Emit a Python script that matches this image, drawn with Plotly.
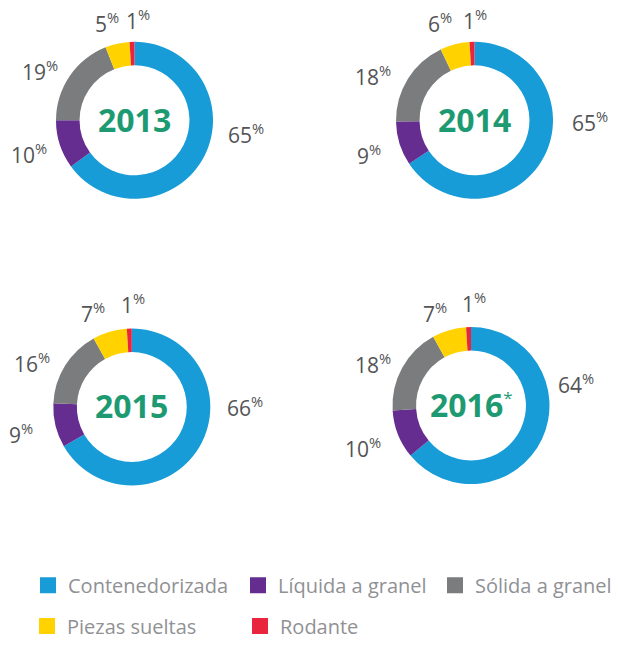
import plotly.graph_objects as go

# page body adds an 8px margin; the figure is sized/offset to compensate
OFF = 8
W, H = 622 - OFF, 646 - OFF

categories = ["Contenedorizada", "Líquida a granel", "Sólida a granel", "Piezas sueltas", "Rodante"]
years = ["2013", "2014", "2015", "2016"]
year_marks = ["", "", "", "*"]
v2013 = [65, 10, 19, 5, 1]
v2014 = [65, 9, 18, 6, 1]
v2015 = [66, 9, 16, 7, 1]
v2016 = [64, 10, 18, 7, 1]
values = [v2013, v2014, v2015, v2016]

colors = ["#179cd8", "#662d91", "#7a7c7d", "#ffd200", "#e8253d"]

# layout: pie centres (screen px) and radius
centers = [(134.5, 121), (474.5, 121), (131.8, 409.5), (471, 408)]
R = 79
# label offsets relative to each pie centre (px, screen coords)
label_offsets = [
    [(111, 14), (-106, 34.5), (-95, -49), (-27.5, -97), (3.5, -100)],
    [(115.3, 2), (-105.7, 35), (-101.8, -44), (-34.5, -97), (0, -100)],
    [(113.5, 0.2), (-110.5, 27.2), (-99.8, -43.5), (-38.8, -94.5), (1.2, -103.5)],
    [(105, -21.3), (-108.3, 43), (-98.3, -41.3), (-36.2, -93), (3.3, -102.2)],
]
# legend item placement (screen px): square centre x, row centre y
legend_pos = [(48, 589), (258, 589), (455, 589), (47, 630), (260, 630)]


def px(x):
    return (x - OFF) / W


def py(y):
    return (H - (y - OFF)) / H


fig = go.Figure()
annotations = []
for i, (yr, vals) in enumerate(zip(years, values)):
    cx, cy = centers[i]
    fig.add_trace(go.Pie(
        labels=categories, values=vals, hole=0.70, sort=False,
        direction="clockwise", rotation=0,
        marker=dict(colors=colors, line=dict(color="white", width=0)),
        textinfo="none", hoverinfo="label+value",
        domain=dict(x=[px(cx - R), px(cx + R)], y=[py(cy + R), py(cy - R)]),
        showlegend=False,
    ))
    mark = ""
    if year_marks[i]:
        mark = f"<sup><span style='font-size:17px'>{year_marks[i]}</span></sup>"
    annotations.append(dict(
        x=px(cx), y=py(cy - 1), xref="paper", yref="paper", showarrow=False,
        text=f"<b>{yr}</b>{mark}",
        font=dict(size=32, color="#1e9a73", family="Open Sans"),
        xanchor="center", yanchor="middle",
    ))
    for v, (dx, dy) in zip(vals, label_offsets[i]):
        annotations.append(dict(
            x=px(cx + dx), y=py(cy + dy - 1), xref="paper", yref="paper",
            showarrow=False, text=f"{v}<sup>%</sup>",
            font=dict(size=21, color="#535456", family="Open Sans"),
            xanchor="center", yanchor="middle",
        ))

# legend entries (one legend per entry for exact placement)
legend_layout = {}
for k, (cat, col) in enumerate(zip(categories, colors)):
    name = "legend" if k == 0 else f"legend{k + 1}"
    fig.add_trace(go.Scatter(
        x=[None], y=[None], mode="markers", name=cat,
        marker=dict(symbol="square", size=18, color=col),
        legend=name, showlegend=True, hoverinfo="skip",
    ))
    sx, sy = legend_pos[k]
    legend_layout[name] = dict(
        x=px(sx - 20), y=py(sy), xanchor="left", yanchor="middle",
        orientation="h", bgcolor="rgba(0,0,0,0)", borderwidth=0,
        font=dict(size=20, color="#909194", family="Open Sans"),
        itemsizing="trace",
    )

fig.update_layout(
    width=W, height=H,
    margin=dict(l=0, r=0, t=0, b=0),
    paper_bgcolor="white", plot_bgcolor="white",
    annotations=annotations,
    xaxis=dict(visible=False), yaxis=dict(visible=False),
    **legend_layout,
)

fig.write_html("out.html")
